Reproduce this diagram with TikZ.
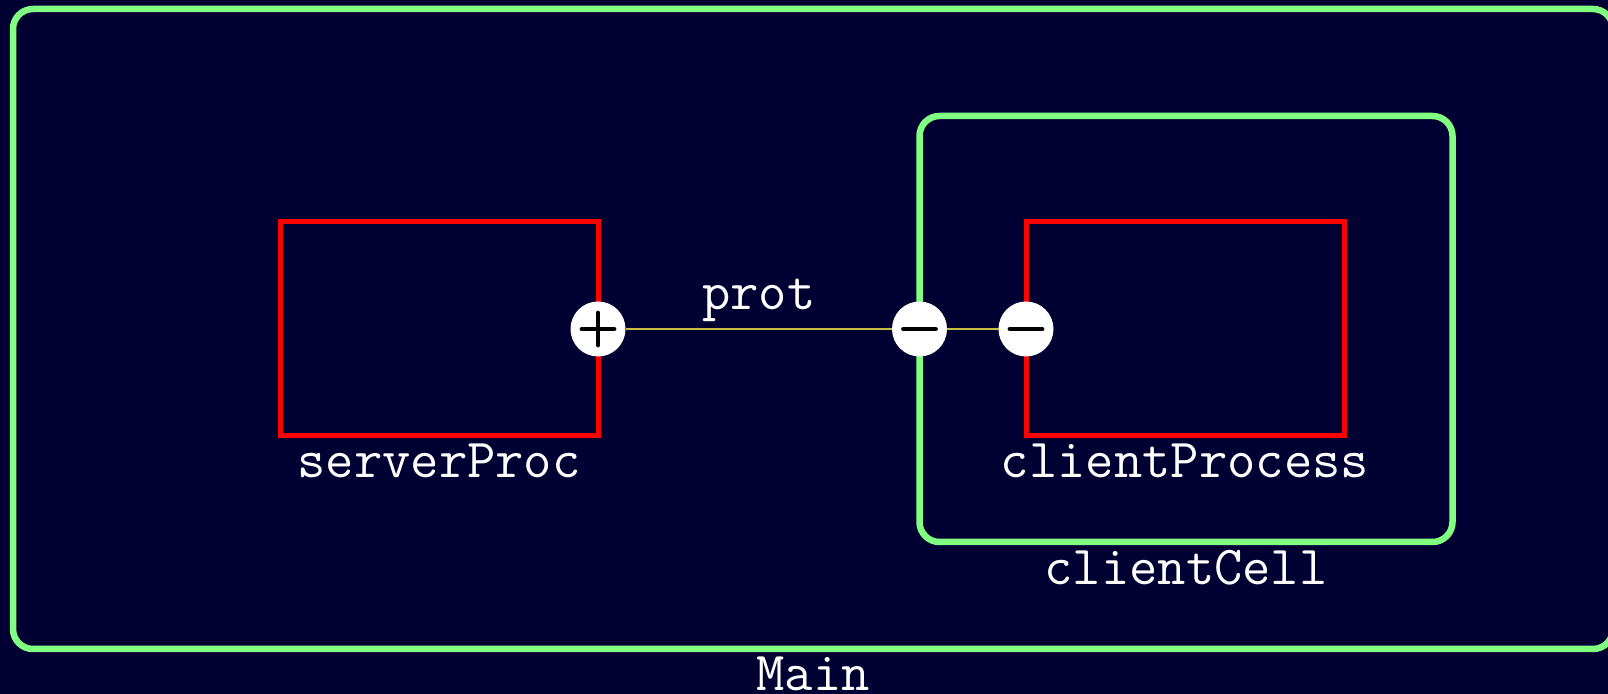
\documentclass[tikz,border=0pt]{standalone}
\usepackage{tikz}

\definecolor{bgnavy}{RGB}{0,0,51}
\definecolor{cellgreen}{RGB}{128,255,128}
\definecolor{procred}{RGB}{255,0,0}
\definecolor{wireolive}{RGB}{200,190,70}

\tikzset{
  tag/.style={text=white,font=\ttfamily\fontsize{27.5}{32}\selectfont},
  cell/.style={draw=cellgreen,line width=3.25pt,rounded corners=10pt,inner sep=0pt,outer sep=0pt},
  proc/.style={draw=procred,line width=2.5pt,inner sep=0pt,outer sep=0pt,
    minimum width=159pt,minimum height=107pt},
  pin/.style={circle,fill=white,inner sep=0pt,outer sep=0pt,minimum size=27.5pt},
  pluspin/.style={pin,path picture={
    \draw[line width=2.4pt,line cap=round]
      ([xshift=-8pt]path picture bounding box.center) -- ([xshift=8pt]path picture bounding box.center)
      ([yshift=-8pt]path picture bounding box.center) -- ([yshift=8pt]path picture bounding box.center);}},
  minuspin/.style={pin,path picture={
    \draw[line width=2.4pt,line cap=round]
      ([xshift=-8pt]path picture bounding box.center) -- ([xshift=8pt]path picture bounding box.center);}},
  wire/.style={draw=wireolive,line width=0.6pt}
}

\begin{document}
\begin{tikzpicture}[x=0.5pt,y=-0.5pt]
\useasboundingbox (0,0) rectangle (1608,694);
\clip (0,0) rectangle (1608,694);
\fill[bgnavy] (0,0) rectangle (1608,694);

% cells
\node[cell,minimum width=800pt,minimum height=320pt,
  label={[tag,label distance=0.5pt]below:Main}] (main) at (813,329) {};
\node[cell,minimum width=266.5pt,minimum height=213pt,
  label={[tag,label distance=0.5pt]below:clientCell}] (clientCell) at (1186,329) {};

% processes
\node[proc,label={[tag,label distance=0.5pt]below:serverProc}] (serverProc) at (439,329) {};
\node[proc,label={[tag,label distance=0.5pt]below:clientProcess}] (clientProcess) at (1185,329) {};

% ports and the protocol wire
\node[pluspin] (sp-out) at (serverProc.east) {};
\node[minuspin] (cc-in) at (clientCell.west) {};
\node[minuspin] (cp-in) at (clientProcess.west) {};
\draw[wire] (sp-out) -- node[tag,above]{prot} (cc-in) -- (cp-in);
\end{tikzpicture}
\end{document}
